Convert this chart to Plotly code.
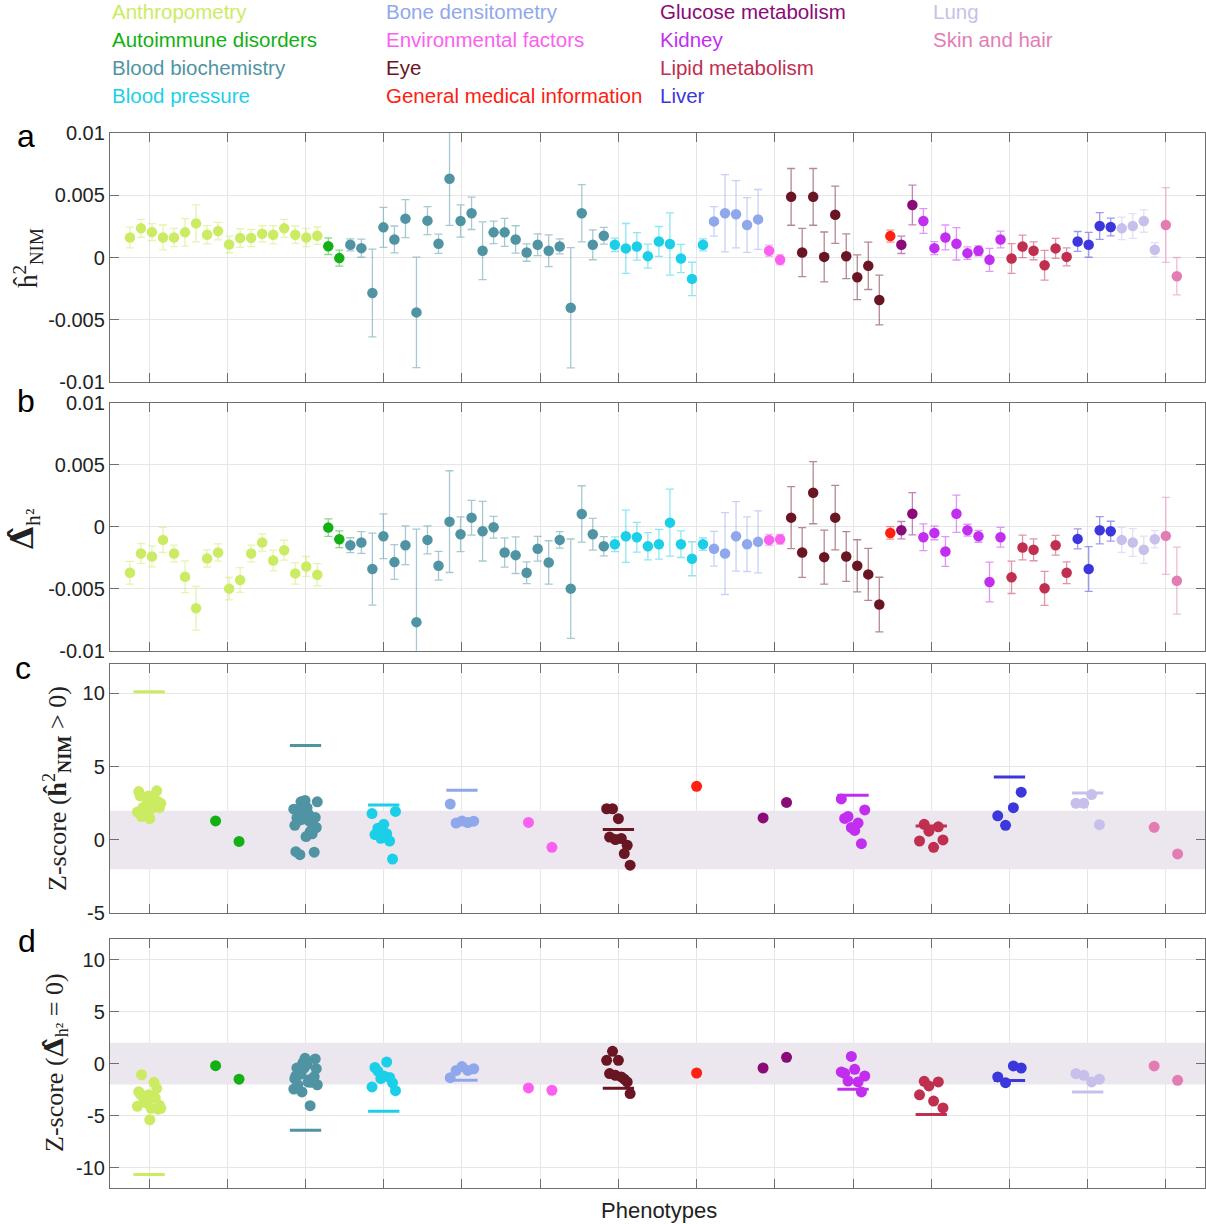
import numpy as np
import plotly.graph_objects as go

# ---------------- data ----------------
categories = ["Anthropometry", "Autoimmune disorders", "Blood biochemistry", "Blood pressure",
              "Bone densitometry", "Environmental factors", "Eye", "General medical information",
              "Glucose metabolism", "Kidney", "Lipid metabolism", "Liver", "Lung", "Skin and hair"]
colors = ["#cbec62", "#12b012", "#5094a4", "#1ccfe8", "#8fa8ec", "#fb60f0", "#6a1524", "#fe2010",
          "#8a0a78", "#c22ef0", "#c02e50", "#3c37dc", "#c8bfea", "#e47cb4"]
counts = [18, 2, 24, 9, 5, 2, 9, 1, 2, 8, 6, 4, 4, 2]

h2_nim = [0.00161, 0.00234, 0.00204, 0.00161, 0.00161, 0.00202, 0.00274, 0.00183, 0.00212, 0.00105,
          0.00156, 0.00156, 0.00191, 0.00183, 0.00234, 0.00183, 0.00161, 0.00175,
          0.00091, -0.00005,
          0.00102, 0.00075, -0.00285, 0.00242, 0.00145, 0.00312, -0.00441, 0.00296, 0.0011, 0.00632,
          0.00293, 0.00355, 0.00054, 0.00202, 0.00202, 0.00145, 0.0004, 0.00102, 0.00054, 0.00089,
          -0.00403, 0.00355, 0.00102, 0.00175,
          0.00102, 0.00073, 0.00089, 0.00011, 0.00129, 0.00108, -0.00008, -0.00172, 0.00102,
          0.0029, 0.00355, 0.00347, 0.00261, 0.00306,
          0.00054, -0.00019,
          0.00487, 0.0004, 0.00487, 0.00005, 0.00344, 0.0001, -0.00159, -0.00067, -0.00341,
          0.00172,
          0.00102, 0.00422,
          0.00293, 0.00075, 0.00161, 0.0011, 0.00035, 0.00054, -0.00019, 0.00145,
          -0.00008, 0.00089, 0.00054, -0.00062, 0.00073, 0.00005,
          0.00129, 0.00102, 0.00253, 0.00245,
          0.00234, 0.00253, 0.00293, 0.00062,
          0.00261, -0.0015]
h2_nim_se = [0.00083, 0.00073, 0.00068, 0.001, 0.00073, 0.0011, 0.00148, 0.00073, 0.0007, 0.00067,
             0.00075, 0.00068, 0.00065, 0.00073, 0.00073, 0.0007, 0.00073, 0.0007,
             0.00067, 0.00064,
             0.00048, 0.00073, 0.00352, 0.00161, 0.00108, 0.00153, 0.00444, 0.00113, 0.00077, 0.00374,
             0.0013, 0.0013, 0.00232, 0.0009, 0.00113, 0.0011, 0.0007, 0.00087, 0.00128, 0.0006,
             0.00483, 0.0023, 0.0012, 0.00067,
             0.00054, 0.002, 0.0011, 0.00097, 0.0012, 0.0025, 0.00113, 0.00134, 0.00048,
             0.00118, 0.0031, 0.0027, 0.0022, 0.0024,
             0.00045, 0.0004,
             0.00228, 0.00194, 0.00228, 0.002, 0.0023, 0.0018, 0.0018, 0.0019, 0.002,
             0.00048,
             0.0007, 0.0016,
             0.001, 0.00052, 0.001, 0.0013, 0.0005, 0.0004, 0.00093, 0.00067,
             0.0012, 0.0009, 0.00072, 0.0012, 0.0008, 0.00072,
             0.0008, 0.001, 0.00107, 0.00071,
             0.0009, 0.001, 0.0009, 0.00058,
             0.003, 0.0015]
delta_h2 = [-0.00372, -0.00217, -0.00241, -0.00107, -0.00217, -0.00404, -0.00658, -0.00257, -0.00209, -0.005,
            -0.0043, -0.00217, -0.00128, -0.00273, -0.0019, -0.00377, -0.00321, -0.00388,
            -0.00008, -0.00102,
            -0.0015, -0.00128, -0.00342, -0.00078, -0.00286, -0.0015, -0.0077, -0.00107, -0.00316, 0.0004,
            -0.00062, 0.00072, -0.00037, -0.00005, -0.00209, -0.0023, -0.00372, -0.00179, -0.00289, -0.00107,
            -0.005, 0.00102, -0.00062, -0.00158,
            -0.00142, -0.00078, -0.00086, -0.00158, -0.00142, 0.00032, -0.00142, -0.00259, -0.00142,
            -0.00179, -0.00217, -0.00078, -0.00142, -0.00123,
            -0.00107, -0.00102,
            0.00072, -0.00209, 0.00273, -0.00246, 0.00072, -0.00241, -0.00316, -0.00385, -0.00628,
            -0.00051,
            -0.00029, 0.00104,
            -0.00086, -0.00051, -0.002, 0.00104, -0.00029, -0.00078, -0.00447, -0.00086,
            -0.00409, -0.00168, -0.00187, -0.00497, -0.0015, -0.00372,
            -0.00099, -0.00342, -0.00029, -0.00037,
            -0.00107, -0.00128, -0.00187, -0.00102,
            -0.00075, -0.00436]
delta_h2_se = [0.00091, 0.0008, 0.00083, 0.001, 0.00067, 0.00128, 0.00176, 0.0007, 0.0007, 0.0009,
               0.001, 0.00067, 0.0007, 0.00083, 0.0008, 0.00086, 0.0008, 0.00089,
               0.0007, 0.00067,
               0.0006, 0.00088, 0.0029, 0.0018, 0.0014, 0.00156, 0.0075, 0.00113, 0.00116, 0.0041,
               0.0014, 0.0014, 0.0024, 0.00088, 0.00118, 0.00148, 0.00088, 0.001, 0.00175, 0.00067,
               0.004, 0.00227, 0.00128, 0.00078,
               0.0006, 0.0021, 0.0012, 0.0011, 0.0012, 0.0027, 0.00107, 0.00137, 0.0005,
               0.0014, 0.0033, 0.0028, 0.0022, 0.0025,
               0.00045, 0.0004,
               0.0025, 0.002, 0.0025, 0.00218, 0.0026, 0.002, 0.0021, 0.0021, 0.0022,
               0.0005,
               0.0007, 0.0017,
               0.00108, 0.00055, 0.0012, 0.0015, 0.00048, 0.00048, 0.0016, 0.0008,
               0.0013, 0.001, 0.00088, 0.00137, 0.0008, 0.00088,
               0.0008, 0.0018, 0.0011, 0.0008,
               0.001, 0.00112, 0.0011, 0.0007,
               0.0031, 0.0027]
z_nim = [1.9, 3.3, 3.0, 1.6, 2.2, 1.8, 1.9, 2.5, 3.0, 1.45, 2.1, 2.3, 2.9, 2.5, 3.35, 2.6, 2.2, 2.5,
         1.3, -0.1,
         2.1, 1.0, -0.8, 1.5, 1.3, 2.0, -1.0, 2.6, 1.4, 1.7, 2.25, 2.7, 0.23, 2.2, 1.8, 1.3, 0.57, 1.2,
         0.42, 1.5, -0.83, 1.54, 0.85, 2.6,
         1.8, 0.37, 0.8, 0.11, 1.07, 0.43, -0.07, -1.3, 1.95,
         2.45, 1.15, 1.29, 1.19, 1.28,
         1.2, -0.5,
         2.13, 0.2, 2.13, 0.03, 1.45, 0.1, -0.93, -0.36, -1.72,
         3.66,
         1.5, 2.56,
         2.8, 1.47, 1.6, 0.85, 0.65, 1.15, -0.25, 2.05,
         -0.07, 1.07, 0.6, -0.5, 0.9, 0.0,
         1.65, 1.0, 2.2, 3.26,
         2.5, 2.5, 3.1, 1.04,
         0.86, -0.95]
z_delta = [-4.1, -2.7, -2.9, -1.07, -3.24, -3.16, -3.74, -3.67, -2.99, -5.4, -4.3, -3.24, -1.8, -3.29,
           -2.38, -4.38, -4.0, -4.3,
           -0.2, -1.5,
           -2.45, -1.45, -1.18, -0.43, -2.04, -0.96, -1.03, -0.95, -2.72, 0.1, -0.44, 0.51, -0.15, -0.06,
           -1.77, -1.55, -4.05, -1.79, -1.65, -1.6, -1.25, 0.45, -0.48, -2.03,
           -2.24, -0.37, -0.72, -1.44, -1.18, 0.16, -1.33, -1.85, -2.6,
           -1.35, -0.66, -0.28, -0.65, -0.49,
           -2.34, -2.56,
           0.32, -0.96, 1.19, -1.12, 0.32, -1.28, -1.5, -1.76, -2.88,
           -0.9,
           -0.42, 0.61,
           -0.8, -0.93, -1.67, 0.7, -0.55, -1.76, -2.72, -1.19,
           -3.0, -1.7, -2.15, -3.6, -1.76, -4.26,
           -1.28, -1.83, -0.22, -0.42,
           -0.96, -1.12, -1.76, -1.5,
           -0.22, -1.6]
meta_z_nim = [10.1, None, 6.45, 2.38, 3.39, None, 0.72, None, None, 3.05, 0.95, 4.3, 3.21, None]
meta_z_delta = [-10.67, None, -6.41, -4.58, -1.6, None, -2.37, None, None, -2.47, -4.9, -1.63, -2.72, None]
band_limits = [-2, 2]

# ---------------- layout constants ----------------
W, H = 1206, 1224
ML, MR = 110, 1
PW = W - ML - MR
X_RANGE = [0.5, 14.5]
X_FIRST, X_LAST = 0.755, 14.14
JIT = 0.15
META_HALF = 0.2
AXIS_COL = "#6e6e6e"
GRID_COL = "#e6e6e6"
TXT = "#222222"
SANS = "Liberation Sans, Arial, Helvetica, sans-serif"
SERIF = "Liberation Serif, Times New Roman, serif"

def rgba(hexc, a):
    h = hexc.lstrip('#')
    return f"rgba({int(h[0:2],16)},{int(h[2:4],16)},{int(h[4:6],16)},{a})"

def pdom(top_px, bot_px):
    return [1 - bot_px / H, 1 - top_px / H]

def px_x(px):
    return (px - ML) / PW

def px_y(py):
    return 1 - py / H

N = sum(counts)
phen_x = X_FIRST + np.arange(N) * (X_LAST - X_FIRST) / (N - 1)
starts = np.concatenate([[0], np.cumsum(counts)[:-1]])
h2 = np.array(h2_nim); h2se = np.array(h2_nim_se)
dl = np.array(delta_h2); dlse = np.array(delta_h2_se)
zn = np.array(z_nim); zd = np.array(z_delta)

fig = go.Figure()

# shaded |Z| < 2 band (drawn as a trace so it covers the grid)
for xa, ya in [("x3", "y3"), ("x4", "y4")]:
    fig.add_trace(go.Scatter(
        x=[X_RANGE[0], X_RANGE[1], X_RANGE[1], X_RANGE[0], X_RANGE[0]],
        y=[band_limits[0], band_limits[0], band_limits[1], band_limits[1], band_limits[0]],
        mode="lines", fill="toself", fillcolor="#ece7ee", line=dict(width=0),
        xaxis=xa, yaxis=ya, showlegend=False, hoverinfo="skip"))

for k in range(len(categories)):
    s, n = starts[k], counts[k]
    sl = slice(s, s + n)
    col = colors[k]
    for yv, ye, xa, ya in [(h2, h2se, "x", "y"), (dl, dlse, "x2", "y2")]:
        fig.add_trace(go.Scatter(
            x=phen_x[sl], y=yv[sl], mode="markers",
            marker=dict(color=col, size=10.5, line=dict(width=0)),
            error_y=dict(type="data", array=ye[sl], color=rgba(col, 0.5), thickness=1.3, width=4),
            xaxis=xa, yaxis=ya, showlegend=False, hoverinfo="skip"))
    off = np.linspace(-JIT, JIT, n) if n > 1 else np.zeros(1)
    for zv, xa, ya in [(zn, "x3", "y3"), (zd, "x4", "y4")]:
        fig.add_trace(go.Scatter(
            x=(k + 1) + off, y=zv[sl], mode="markers",
            marker=dict(color=col, size=11, line=dict(width=0)),
            xaxis=xa, yaxis=ya, showlegend=False, hoverinfo="skip"))

for k in range(len(categories)):
    for mv, xa, ya in [(meta_z_nim[k], "x3", "y3"), (meta_z_delta[k], "x4", "y4")]:
        if mv is None:
            continue
        fig.add_trace(go.Scatter(
            x=[k + 1 - META_HALF, k + 1 + META_HALF], y=[mv, mv], mode="lines",
            line=dict(color=colors[k], width=3),
            xaxis=xa, yaxis=ya, showlegend=False, hoverinfo="skip"))

doms = [pdom(133, 382), pdom(402.5, 650.7), pdom(664, 913.3), pdom(939, 1188.3)]
yranges = [[-0.01, 0.01], [-0.01, 0.01], [-5, 12], [-12, 12]]
ytv = [[-0.01, -0.005, 0, 0.005, 0.01], [-0.01, -0.005, 0, 0.005, 0.01], [-5, 0, 5, 10], [-10, -5, 0, 5, 10]]
ytt = [["-0.01", "-0.005", "0", "0.005", "0.01"], ["-0.01", "-0.005", "0", "0.005", "0.01"],
       ["-5", "0", "5", "10"], ["-10", "-5", "0", "5", "10"]]

common = dict(showline=True, linecolor=AXIS_COL, linewidth=1.3, mirror="ticks", ticks="inside",
              ticklen=9, tickcolor=AXIS_COL, tickwidth=1.2, showgrid=True, gridcolor=GRID_COL,
              gridwidth=1, zeroline=False, automargin=False)
lay = {}
for i in range(4):
    sx = "" if i == 0 else str(i + 1)
    lay["xaxis" + sx] = dict(domain=[0, 1], range=X_RANGE, tickvals=list(range(1, 15)),
                             showticklabels=False, anchor="y" + sx, **common)
    lay["yaxis" + sx] = dict(domain=doms[i], range=yranges[i], tickvals=ytv[i], ticktext=ytt[i],
                             anchor="x" + sx, tickfont=dict(family=SANS, size=20, color=TXT), **common)

ann = []
for k, cat in enumerate(categories):
    col_i, row_i = k // 4, k % 4
    ann.append(dict(text=cat, xref="paper", yref="paper", x=col_i * 0.25, y=px_y(12 + row_i * 27.7),
                    xanchor="left", yanchor="middle", showarrow=False,
                    font=dict(family=SANS, size=20.5, color=colors[k])))
for lab, (xx, yy) in zip("abcd", [(26, 136), (26, 401), (23, 668), (27, 941)]):
    ann.append(dict(text=lab, xref="paper", yref="paper", x=px_x(xx), y=px_y(yy), xanchor="center",
                    yanchor="middle", showarrow=False, font=dict(family=SANS, size=32, color="black")))
DHAT = "<span style='font-family:DejaVu Serif'><b>Δ̂</b></span>"
ytitles = [("ĥ<sup>2</sup><sub>NIM</sub>", 28, 258, 27),
           (DHAT + "<sub>h²</sub>", 24, 530, 31),
           ("Z-score (<b>ĥ</b><sup>2</sup><sub><b>NIM</b></sub> &gt; 0)", 57, 789, 26),
           ("Z-score (" + DHAT + "<sub>h²</sub> = 0)", 55, 1063, 26)]
for txt, xx, yy, fs in ytitles:
    ann.append(dict(text=txt, xref="paper", yref="paper", x=px_x(xx), y=px_y(yy), xanchor="center",
                    yanchor="middle", textangle=-90, showarrow=False,
                    font=dict(family=SERIF, size=fs, color=TXT)))
ann.append(dict(text="Phenotypes", xref="paper", yref="paper", x=px_x(659), y=px_y(1210),
                xanchor="center", yanchor="middle", showarrow=False,
                font=dict(family=SANS, size=22, color=TXT)))

fig.update_layout(width=W, height=H, margin=dict(l=ML, r=MR, t=0, b=0, pad=0, autoexpand=False),
                  paper_bgcolor="white", plot_bgcolor="white", showlegend=False,
                  annotations=ann, **lay)

fig.write_html("out.html", config={"displayModeBar": False},
               post_script="document.body.style.margin='0px';")
